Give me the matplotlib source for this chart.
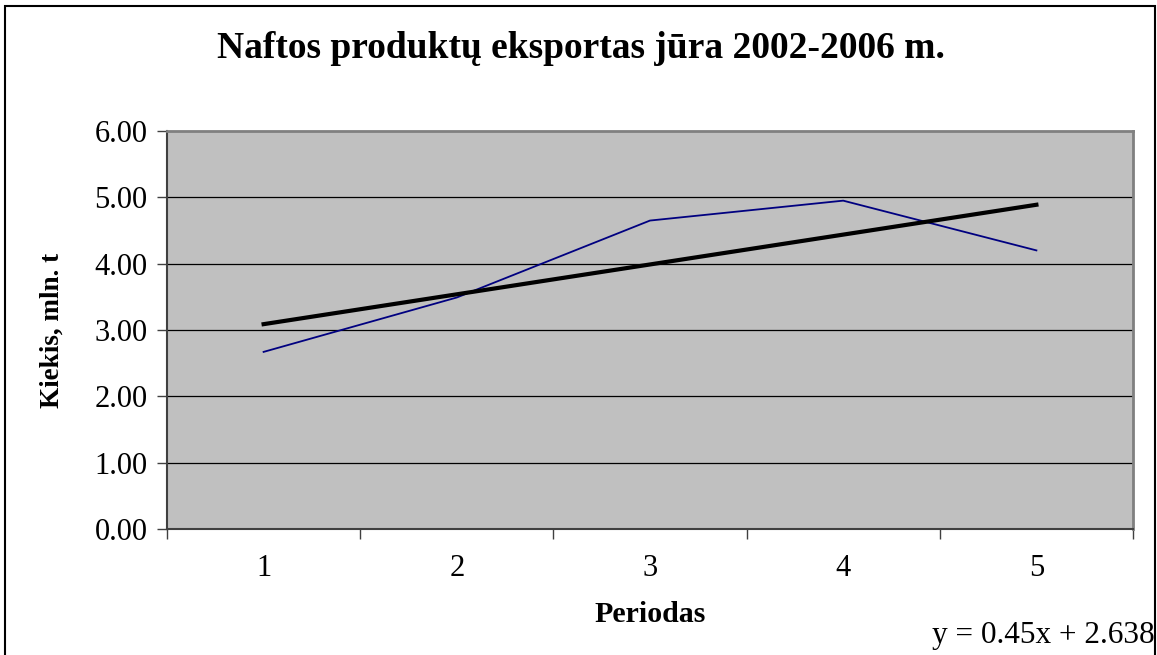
import numpy as np
import matplotlib
matplotlib.use('Agg')
import matplotlib.pyplot as plt
from matplotlib.patches import Rectangle

periodai = [1, 2, 3, 4, 5]
kiekis = [2.67, 3.49, 4.65, 4.95, 4.20]
trend_k = 0.45
trend_b = 2.638
y_ticks = [0.0, 1.0, 2.0, 3.0, 4.0, 5.0, 6.0]

plt.rcParams['font.family'] = ['Liberation Serif', 'DejaVu Serif']

W, H = 1157, 655
fig = plt.figure(figsize=(W/100, H/100), dpi=100)
ax = fig.add_axes([167/W, 1-529/H, (1133-167)/W, (529-131)/H])

# figure border (bottom edge is cut off in the original)
fig.patches.append(Rectangle((5/W, -0.05), (1155-5)/W, 1.05-6/H, transform=fig.transFigure,
                             fill=False, edgecolor='black', linewidth=1.5))

x = np.array(periodai)
ax.set_facecolor('#c0c0c0')
ax.plot(x, kiekis, color='#000080', linewidth=1.3, zorder=3)
trend = trend_k*x + trend_b
ax.plot(x, trend, color='black', linewidth=3, zorder=4)

ax.set_xlim(0.5, 5.5)
ax.set_ylim(0, 6)
ax.set_yticks(y_ticks)
ax.set_yticklabels([f'{v:.2f}' for v in y_ticks], fontsize=22)
for v in y_ticks[1:-1]:
    ax.axhline(v, color='black', linewidth=0.9, zorder=2)

# category axis: ticks between categories, labels centered
ax.set_xticks(np.arange(0.5, 6.0, 1.0))
ax.set_xticklabels([])
ax.set_xticks(x, minor=True)
ax.set_xticklabels([str(p) for p in periodai], minor=True, fontsize=22)
ax.tick_params(axis='x', which='major', direction='out', length=7, width=1, color='#404040')
ax.tick_params(axis='x', which='minor', length=0, pad=18)
ax.tick_params(axis='y', direction='out', length=7, width=1, color='#404040', pad=7)

for s in ['top', 'right']:
    ax.spines[s].set_color('#808080')
    ax.spines[s].set_linewidth(2)
for s in ['left', 'bottom']:
    ax.spines[s].set_color('#404040')
    ax.spines[s].set_linewidth(1.5)

fig.text(581/W, 1-48/H, 'Naftos produktų eksportas jūra 2002-2006 m.', ha='center', va='center',
         fontsize=27, fontweight='bold')
fig.text(52/W, 1-330/H, 'Kiekis, mln. t', rotation=90, ha='center', va='center',
         fontsize=19.5, fontweight='bold')
fig.text(650/W, 1-614/H, 'Periodas', ha='center', va='center', fontsize=21.5, fontweight='bold')
fig.text(1155/W, 1-636/H, f'y = {trend_k}x + {trend_b}', ha='right', va='center', fontsize=22.5)

fig.savefig('out.png', dpi=100)
